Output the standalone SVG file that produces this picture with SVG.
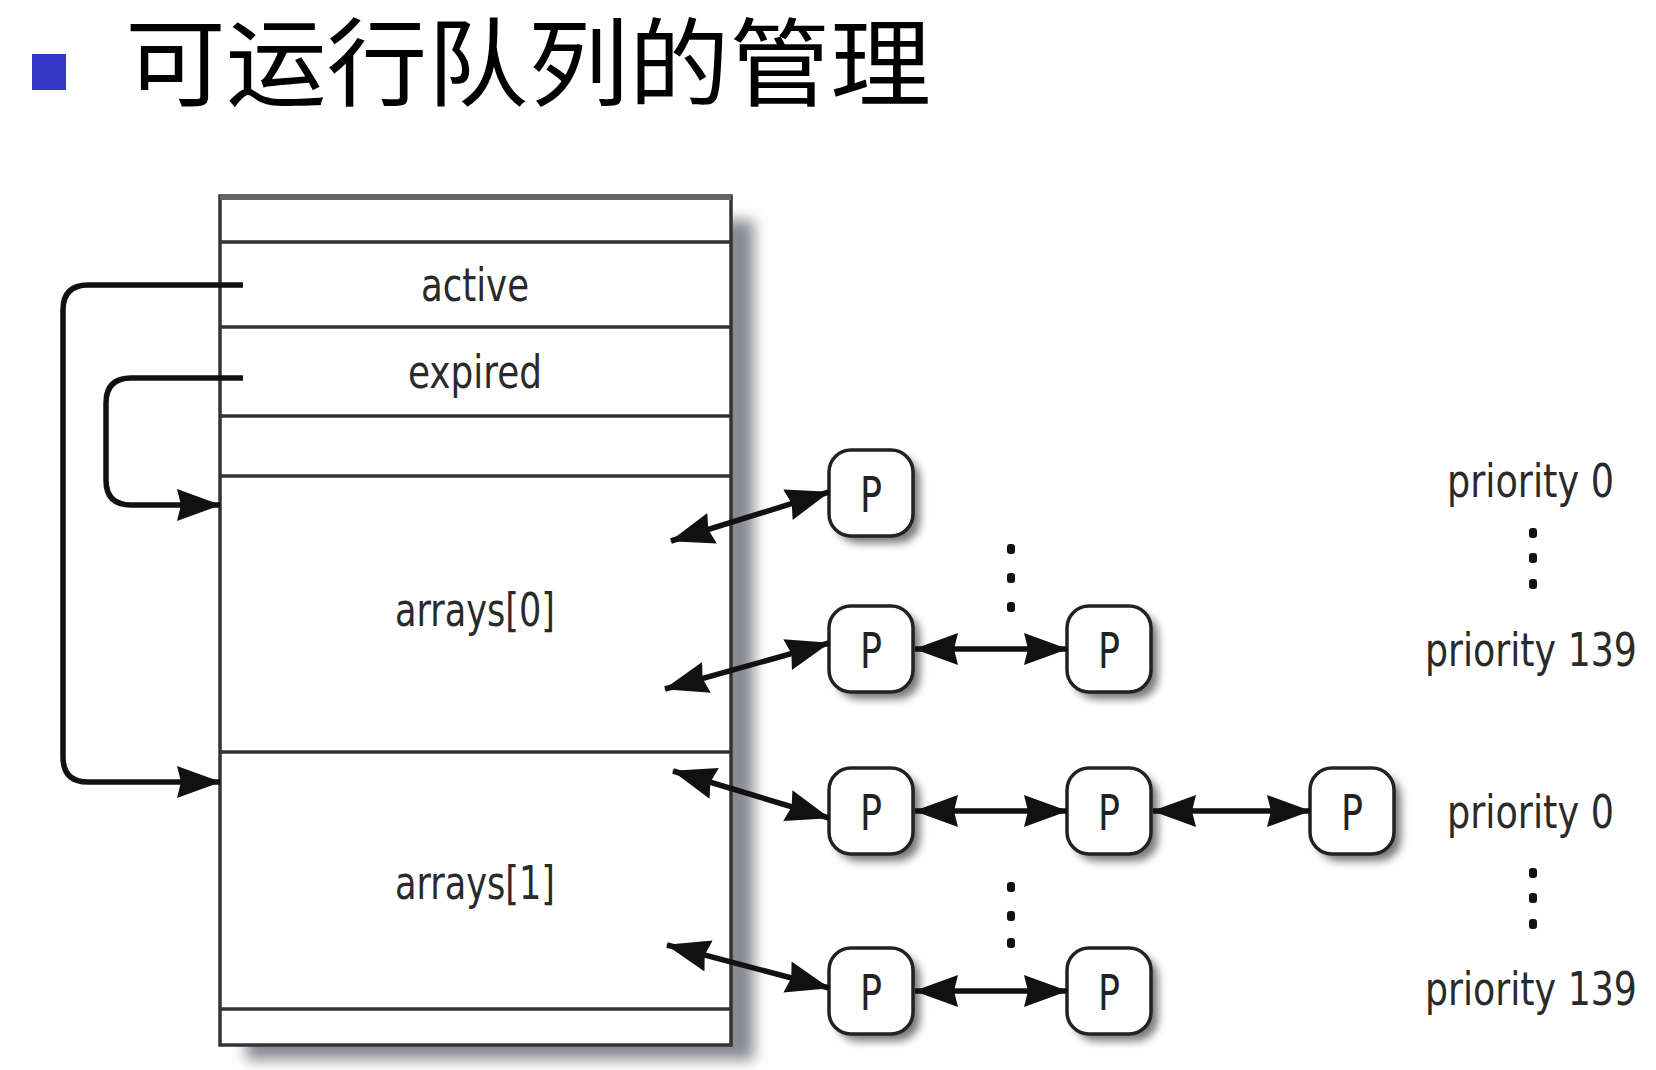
<svg xmlns="http://www.w3.org/2000/svg" width="1656" height="1070" viewBox="0 0 1656 1070">
<defs>
<style>
.lbl{font-family:"DejaVu Sans Condensed","Liberation Sans Narrow","Liberation Sans",sans-serif;font-stretch:condensed;fill:#2a2a2a;text-anchor:middle}
.pr{font-family:"DejaVu Sans Condensed","Liberation Sans Narrow","Liberation Sans",sans-serif;font-stretch:condensed;fill:#2a2a2a;text-anchor:end;font-size:46px}
.pt{font-family:"DejaVu Sans Condensed","Liberation Sans",sans-serif;font-size:50px;fill:#222;text-anchor:middle}
.row{stroke:#333;stroke-width:3.5}
.node{fill:#fff;stroke:#222;stroke-width:3.5}
.con{fill:none;stroke:#111;stroke-width:5.5}
.dot{fill:#111}
</style>
<marker id="ah" viewBox="0 0 44 34" refX="43" refY="17" markerWidth="44" markerHeight="34" markerUnits="userSpaceOnUse" orient="auto-start-reverse">
<path d="M0,1 L44,17 L0,33 L4,17 z" fill="#111"/>
</marker>
<filter id="boxsh" x="-10%" y="-10%" width="130%" height="130%">
<feGaussianBlur stdDeviation="7"/>
</filter>
<filter id="nsh" x="-30%" y="-30%" width="160%" height="160%">
<feGaussianBlur stdDeviation="4"/>
</filter>
</defs>
<rect width="1656" height="1070" fill="#fff"/>

<g id="title">
<rect x="32" y="54" width="34" height="36" fill="#3238c4"/>
<text x="125" y="98" font-family="Noto Sans CJK SC, sans-serif" font-size="96" textLength="806" lengthAdjust="spacingAndGlyphs" fill="#000">可运行队列的管理</text>
</g>

<g id="runqueue">
<rect x="246" y="220" width="508" height="840" fill="#8a8a94" filter="url(#boxsh)"/>
<rect x="220" y="196" width="511" height="849" fill="#fff" stroke="#333" stroke-width="3.5"/>
<line x1="220" y1="197" x2="731" y2="197" stroke="#666" stroke-width="6"/>
<line class="row" x1="220" y1="242" x2="731" y2="242"/>
<line class="row" x1="220" y1="327" x2="731" y2="327"/>
<line class="row" x1="220" y1="416" x2="731" y2="416"/>
<line class="row" x1="220" y1="476" x2="731" y2="476"/>
<line class="row" x1="220" y1="752" x2="731" y2="752" stroke="#555" stroke-width="5"/>
<line class="row" x1="220" y1="1009" x2="731" y2="1009"/>
<text class="lbl" x="475" y="301" font-size="46" textLength="108" lengthAdjust="spacingAndGlyphs">active</text>
<text class="lbl" x="475" y="388" font-size="46" textLength="134" lengthAdjust="spacingAndGlyphs">expired</text>
<text class="lbl" x="475" y="626" font-size="46" textLength="160" lengthAdjust="spacingAndGlyphs">arrays[0]</text>
<text class="lbl" x="475" y="899" font-size="46" textLength="160" lengthAdjust="spacingAndGlyphs">arrays[1]</text>
</g>

<g id="n1"><rect x="836" y="457" width="84" height="86" rx="22" fill="#777" filter="url(#nsh)"/><rect class="node" x="829" y="450" width="84" height="86" rx="22"/><text class="pt" x="871" y="512" textLength="22" lengthAdjust="spacingAndGlyphs">P</text></g>
<g id="n2"><rect x="836" y="613" width="84" height="86" rx="22" fill="#777" filter="url(#nsh)"/><rect class="node" x="829" y="606" width="84" height="86" rx="22"/><text class="pt" x="871" y="668" textLength="22" lengthAdjust="spacingAndGlyphs">P</text></g>
<g id="n3"><rect x="1074" y="613" width="84" height="86" rx="22" fill="#777" filter="url(#nsh)"/><rect class="node" x="1067" y="606" width="84" height="86" rx="22"/><text class="pt" x="1109" y="668" textLength="22" lengthAdjust="spacingAndGlyphs">P</text></g>
<g id="n4"><rect x="836" y="775" width="84" height="86" rx="22" fill="#777" filter="url(#nsh)"/><rect class="node" x="829" y="768" width="84" height="86" rx="22"/><text class="pt" x="871" y="830" textLength="22" lengthAdjust="spacingAndGlyphs">P</text></g>
<g id="n5"><rect x="1074" y="775" width="84" height="86" rx="22" fill="#777" filter="url(#nsh)"/><rect class="node" x="1067" y="768" width="84" height="86" rx="22"/><text class="pt" x="1109" y="830" textLength="22" lengthAdjust="spacingAndGlyphs">P</text></g>
<g id="n6"><rect x="1317" y="775" width="84" height="86" rx="22" fill="#777" filter="url(#nsh)"/><rect class="node" x="1310" y="768" width="84" height="86" rx="22"/><text class="pt" x="1352" y="830" textLength="22" lengthAdjust="spacingAndGlyphs">P</text></g>
<g id="n7"><rect x="836" y="955" width="84" height="86" rx="22" fill="#777" filter="url(#nsh)"/><rect class="node" x="829" y="948" width="84" height="86" rx="22"/><text class="pt" x="871" y="1010" textLength="22" lengthAdjust="spacingAndGlyphs">P</text></g>
<g id="n8"><rect x="1074" y="955" width="84" height="86" rx="22" fill="#777" filter="url(#nsh)"/><rect class="node" x="1067" y="948" width="84" height="86" rx="22"/><text class="pt" x="1109" y="1010" textLength="22" lengthAdjust="spacingAndGlyphs">P</text></g>

<g id="priorities">
<text class="pr" x="1614" y="497" textLength="167" lengthAdjust="spacingAndGlyphs">priority 0</text>
<rect class="dot" x="1529" y="528" width="8" height="10" rx="3"/>
<rect class="dot" x="1529" y="553" width="8" height="10" rx="3"/>
<rect class="dot" x="1529" y="579" width="8" height="10" rx="3"/>
<text class="pr" x="1637" y="666" textLength="212" lengthAdjust="spacingAndGlyphs">priority 139</text>
<text class="pr" x="1614" y="828" textLength="167" lengthAdjust="spacingAndGlyphs">priority 0</text>
<rect class="dot" x="1529" y="868" width="8" height="10" rx="3"/>
<rect class="dot" x="1529" y="893" width="8" height="10" rx="3"/>
<rect class="dot" x="1529" y="919" width="8" height="10" rx="3"/>
<text class="pr" x="1637" y="1005" textLength="212" lengthAdjust="spacingAndGlyphs">priority 139</text>
</g>

<g id="ellipses">
<rect class="dot" x="1007" y="544" width="8" height="10" rx="3"/>
<rect class="dot" x="1007" y="573" width="8" height="10" rx="3"/>
<rect class="dot" x="1007" y="602" width="8" height="10" rx="3"/>
<rect class="dot" x="1007" y="882" width="8" height="10" rx="3"/>
<rect class="dot" x="1007" y="911" width="8" height="10" rx="3"/>
<rect class="dot" x="1007" y="938" width="8" height="10" rx="3"/>
</g>

<g id="connectors">
<path class="con" d="M243,285 H88 Q63,285 63,310 V757 Q63,782 88,782 H220" marker-end="url(#ah)"/>
<path class="con" d="M243,378 H131 Q106,378 106,403 V480 Q106,505 131,505 H220" marker-end="url(#ah)"/>
<line class="con" x1="671" y1="541" x2="829" y2="492" marker-start="url(#ah)" marker-end="url(#ah)"/>
<line class="con" x1="665" y1="689" x2="829" y2="643" marker-start="url(#ah)" marker-end="url(#ah)"/>
<line class="con" x1="673" y1="771" x2="829" y2="818" marker-start="url(#ah)" marker-end="url(#ah)"/>
<line class="con" x1="667" y1="945" x2="829" y2="988" marker-start="url(#ah)" marker-end="url(#ah)"/>
<line class="con" x1="915" y1="649" x2="1067" y2="649" marker-start="url(#ah)" marker-end="url(#ah)"/>
<line class="con" x1="915" y1="811" x2="1067" y2="811" marker-start="url(#ah)" marker-end="url(#ah)"/>
<line class="con" x1="1153" y1="811" x2="1310" y2="811" marker-start="url(#ah)" marker-end="url(#ah)"/>
<line class="con" x1="915" y1="991" x2="1067" y2="991" marker-start="url(#ah)" marker-end="url(#ah)"/>
</g>
</svg>
